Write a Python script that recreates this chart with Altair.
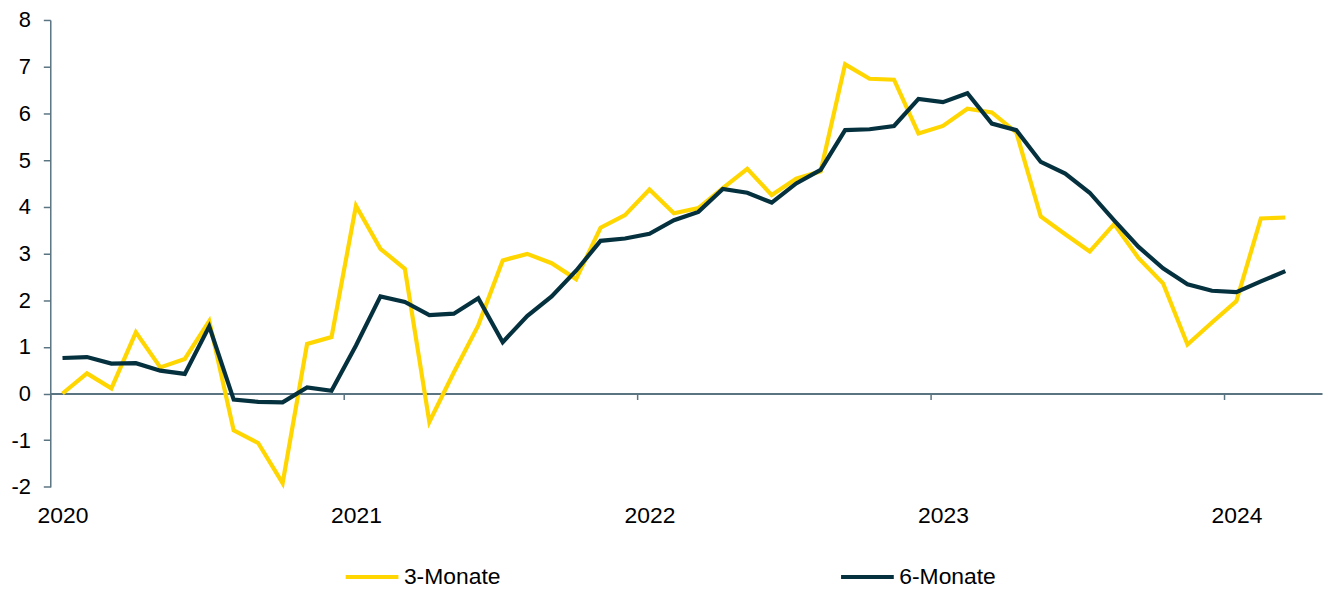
import altair as alt
import pandas as pd

months = [
    "2020-01", "2020-02", "2020-03", "2020-04", "2020-05", "2020-06",
    "2020-07", "2020-08", "2020-09", "2020-10", "2020-11", "2020-12",
    "2021-01", "2021-02", "2021-03", "2021-04", "2021-05", "2021-06",
    "2021-07", "2021-08", "2021-09", "2021-10", "2021-11", "2021-12",
    "2022-01", "2022-02", "2022-03", "2022-04", "2022-05", "2022-06",
    "2022-07", "2022-08", "2022-09", "2022-10", "2022-11", "2022-12",
    "2023-01", "2023-02", "2023-03", "2023-04", "2023-05", "2023-06",
    "2023-07", "2023-08", "2023-09", "2023-10", "2023-11", "2023-12",
    "2024-01", "2024-02", "2024-03",
]

three_months = [
    0.00, 0.43, 0.11, 1.31, 0.56, 0.74, 1.55, -0.79, -1.06, -1.92, 1.06, 1.21,
    4.02, 3.10, 2.67, -0.61, 0.45, 1.46, 2.85, 2.99, 2.79, 2.45, 3.55, 3.82,
    4.37, 3.86, 3.97, 4.40, 4.81, 4.25, 4.60, 4.76, 7.05, 6.74, 6.72, 5.57,
    5.73, 6.10, 6.02, 5.59, 3.79, 3.41, 3.04, 3.63, 2.90, 2.36, 1.05, 1.52,
    1.98, 3.75, 3.77,
]

six_months = [
    0.76, 0.78, 0.64, 0.65, 0.49, 0.42, 1.44, -0.13, -0.18, -0.19, 0.13, 0.06,
    1.03, 2.08, 1.96, 1.68, 1.71, 2.04, 1.10, 1.66, 2.08, 2.63, 3.27, 3.32,
    3.42, 3.71, 3.89, 4.38, 4.30, 4.09, 4.50, 4.79, 5.64, 5.66, 5.73, 6.31,
    6.24, 6.43, 5.78, 5.64, 4.96, 4.71, 4.30, 3.71, 3.14, 2.68, 2.34, 2.20,
    2.17, 2.40, 2.62,
]

series_names = ["3-Monate", "6-Monate"]
series_colors = ["#FFD600", "#05313F"]
y_ticks = [-2, -1, 0, 1, 2, 3, 4, 5, 6, 7, 8]
first_year = 2020
n_slots = 52  # monthly category slots on the axis (Jan 2020 .. Apr 2024)
year_boundaries = [0, 12, 24, 36, 48]
year_label_slots = [0.5, 12.5, 24.5, 36.5, 48.5]

rows = []
for name, vals in zip(series_names, [three_months, six_months]):
    for i, (m, v) in enumerate(zip(months, vals)):
        rows.append({"slot": i + 0.5, "month": m, "series": name, "value": v})
df = pd.DataFrame(rows)

W = 1278.5
H = 469.4
axis_color = "#5B7482"
font = "Liberation Sans"

x_scale = alt.Scale(domain=[0, n_slots], nice=False, zero=False)
y_scale = alt.Scale(domain=[-2, 8], nice=False)

# axis line + year-boundary ticks sitting on the zero line
x_axis_line = alt.Axis(
    orient="bottom",
    values=year_boundaries,
    offset=-H * 0.2,
    domainColor=axis_color,
    domainWidth=2,
    tickColor=axis_color,
    tickWidth=1.5,
    tickSize=6,
    labels=False,
    grid=False,
    title=None,
)

# year labels at the bottom, centred on January
x_axis_labels = alt.Axis(
    orient="bottom",
    values=year_label_slots,
    labelExpr=f"'' + ({first_year} + floor(datum.value / 12))",
    domain=False,
    ticks=False,
    labelPadding=18,
    labelAlign="center",
    labelFont=font,
    labelFontSize=23,
    labelColor="#000000",
    labelFlush=False,
    labelOverlap=False,
    grid=False,
    title=None,
)

y_axis = alt.Axis(
    orient="left",
    values=y_ticks,
    labelExpr="datum.value < 0 ? '-' + abs(datum.value) : '' + datum.value",
    domainColor=axis_color,
    domainWidth=1.5,
    tickColor=axis_color,
    tickWidth=1.5,
    tickSize=7,
    labelPadding=13,
    labelFont=font,
    labelFontSize=22,
    labelColor="#000000",
    labelFlush=False,
    grid=False,
    title=None,
)

lines = (
    alt.Chart(df)
    .mark_line(strokeWidth=4.2)
    .encode(
        x=alt.X("slot:Q", scale=x_scale, axis=x_axis_line),
        y=alt.Y("value:Q", scale=y_scale, axis=y_axis),
        color=alt.Color(
            "series:N",
            scale=alt.Scale(domain=series_names, range=series_colors),
            legend=alt.Legend(
                title=None,
                orient="none",
                legendX=294.5,
                legendY=531,
                direction="horizontal",
                symbolType="stroke",
                symbolSize=2809,
                symbolStrokeWidth=4.2,
                labelFont=font,
                labelFontSize=23,
                labelColor="#000000",
                labelOffset=3,
                columnPadding=333,
                padding=0,
            ),
        ),
        order=alt.Order("slot:Q"),
    )
)

label_layer = (
    alt.Chart(df)
    .mark_point(opacity=0)
    .encode(
        x=alt.X("slot:Q", scale=x_scale, axis=x_axis_labels),
    )
)

chart = (
    alt.layer(lines, label_layer)
    .resolve_axis(x="independent")
    .properties(
        width=W,
        height=H,
        autosize=alt.AutoSizeParams(type="none"),
        padding={"left": 42.5, "top": 10.5, "right": 2, "bottom": 100},
    )
    .configure_view(stroke=None)
)

chart.save("out.html", embed_options={"renderer": "svg", "actions": False})
